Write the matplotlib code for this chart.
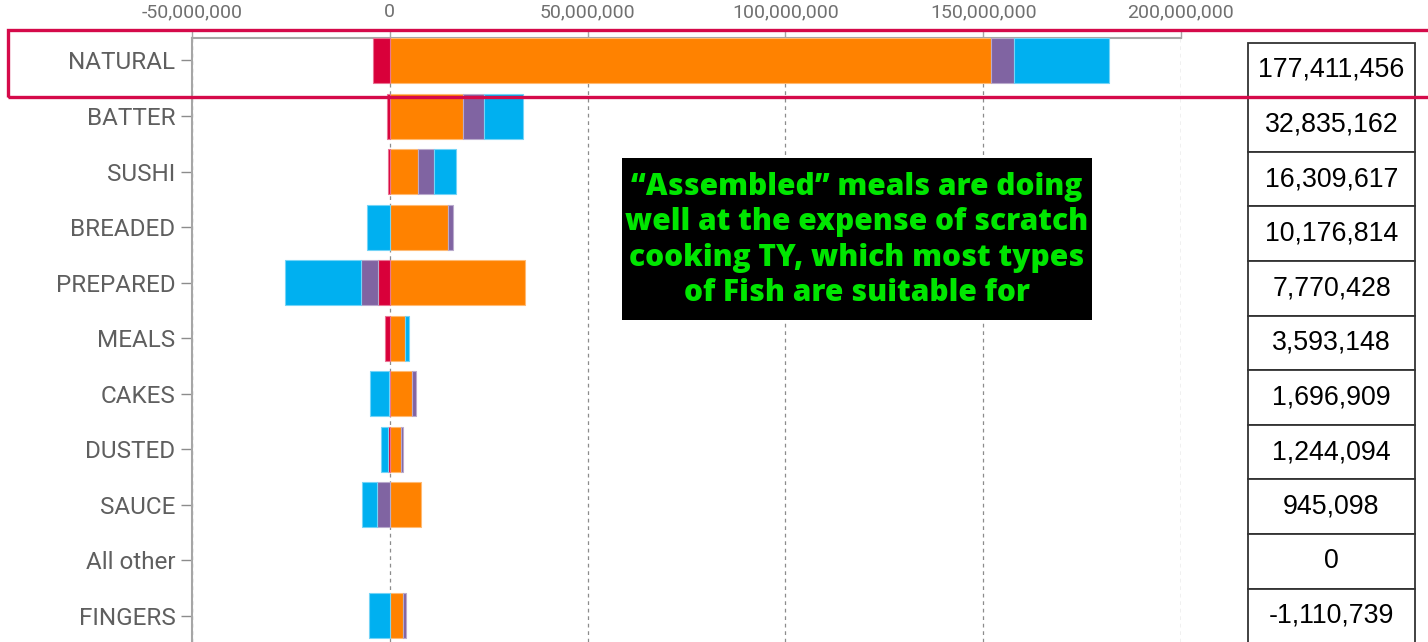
import matplotlib
matplotlib.use("Agg")
import matplotlib.pyplot as plt
from matplotlib.ticker import FuncFormatter, FixedLocator
from matplotlib.patches import Rectangle
import numpy as np

# ---- data -------------------------------------------------------------
categories = ["NATURAL", "BATTER", "SUSHI", "BREADED", "PREPARED", "MEALS",
              "CAKES", "DUSTED", "SAUCE", "All other", "FINGERS"]

# value change contributions per segment (units)
orange_vals = [152.0e6, 18.6e6, 7.2e6, 14.7e6, 34.1e6, 3.9e6, 5.6e6, 2.9e6, 7.9e6, 0.0, 3.4e6]
red_vals    = [-4.2e6, -0.75e6, -0.5e6, 0.0, -3.0e6, -1.2e6, -0.2e6, -0.5e6, 0.0, 0.0, 0.0]
purple_vals = [5.9e6, 5.2e6, 4.0e6, 1.2e6, -4.3e6, 0.0, 1.1e6, 0.5e6, -3.2e6, 0.0, 0.8e6]
blue_vals   = [23.8e6, 9.8e6, 5.6e6, -5.7e6, -19.1e6, 0.9e6, -4.8e6, -1.7e6, -3.8e6, 0.0, -5.3e6]

net_totals = [177411456, 32835162, 16309617, 10176814, 7770428, 3593148,
              1696909, 1244094, 945098, 0, -1110739]

x_ticks = [-50e6, 0, 50e6, 100e6, 150e6, 200e6]

note_text = ("\u201cAssembled\u201d meals are doing\n"
             "well at the expense of scratch\n"
             "cooking TY, which most types\n"
             "of Fish are suitable for")

# ---- styling ----------------------------------------------------------
series = [
    (orange_vals, "#FF8200"),
    (red_vals,    "#D9003A"),
    (purple_vals, "#8064A2"),
    (blue_vals,   "#00B0F0"),
]

W, H = 1428, 642
fig = plt.figure(figsize=(W / 100, H / 100), dpi=100)
fig.patch.set_facecolor("white")

def px_box(x0, y0, x1, y1):
    """figure-fraction rect from pixel corners (top-left origin)."""
    return [x0 / W, 1 - y1 / H, (x1 - x0) / W, (y1 - y0) / H]

ax = fig.add_axes(px_box(192, 38, 1181, 642))

y = np.arange(len(categories))
pos_left = np.zeros(len(categories))
neg_left = np.zeros(len(categories))

def tint(c, f=0.45):
    rgb = np.array(matplotlib.colors.to_rgb(c))
    return tuple(rgb + (1 - rgb) * f)

for vals, color in series:
    v = np.array(vals, dtype=float)
    left = np.where(v >= 0, pos_left, neg_left)
    nz = v != 0
    ax.barh(y[nz], v[nz], left=left[nz], height=0.81, color=color,
            edgecolor=tint(color), linewidth=0.8, zorder=3)
    pos_left += np.where(v > 0, v, 0)
    neg_left += np.where(v < 0, v, 0)

ax.set_xlim(-50e6, 200e6)
ax.set_ylim(10.47, -0.405)

ax.xaxis.set_major_locator(FixedLocator(x_ticks))
ax.xaxis.set_major_formatter(FuncFormatter(lambda v, p: f"{v:,.0f}"))
ax.xaxis.tick_top()
ax.tick_params(axis="x", which="major", length=6, width=1, color="#A6A6A6",
               pad=6, labelsize=14, labelcolor="#707070")
for lbl in ax.get_xticklabels():
    lbl.set_fontfamily("Roboto")

ax.set_yticks(y)
ax.set_yticklabels(categories)
ax.tick_params(axis="y", length=8, width=1, color="#8C8C8C", pad=4,
               labelsize=17.5, labelcolor="#5F5F5F")
for lbl in ax.get_yticklabels():
    lbl.set_fontfamily("Roboto")

ax.grid(axis="x", linestyle=(0, (3, 3)), color="#8C8C8C", linewidth=0.9)
ax.set_axisbelow(True)

for side in ("right", "bottom"):
    ax.spines[side].set_visible(False)
for side in ("top", "left"):
    ax.spines[side].set_color("#A6A6A6")
    ax.spines[side].set_linewidth(1.5)

# ---- annotation box --------------------------------------------------
bx0, by0, bx1, by1 = 622, 158, 1092, 320
fig.patches.append(Rectangle((bx0 / W, 1 - by1 / H), (bx1 - bx0) / W, (by1 - by0) / H,
                             transform=fig.transFigure, facecolor="black",
                             edgecolor="none", zorder=5))
fig.text((bx0 + bx1) / 2 / W, 1 - ((by0 + by1) / 2 + 1) / H, note_text,
         ha="center", va="center", color="#00E600", fontsize=21.5,
         fontweight=800, family="Open Sans", linespacing=1.23, zorder=6)

# ---- totals column --------------------------------------------------
tax = fig.add_axes(px_box(1248, 42.7, 1415, 643.3))
tax.set_xlim(0, 1)
tax.set_ylim(len(net_totals), 0)
tax.axis("off")
for i, val in enumerate(net_totals):
    tax.add_patch(Rectangle((0, i), 1, 1, facecolor="white", edgecolor="#333333",
                            linewidth=1.3, clip_on=False))
    tax.text(0.5, i + 0.5, f"{val:,}", ha="center", va="center",
             fontsize=19.3, family="Liberation Sans", color="black")

# ---- highlight frame around the top row ------------------------------
fig.patches.append(Rectangle((8 / W, 1 - 97 / H), (1440 - 8) / W, (97 - 30) / H,
                             transform=fig.transFigure, facecolor="none",
                             edgecolor="#D50A4A", linewidth=2.4, zorder=10,
                             clip_on=False))

fig.savefig("out.png", dpi=100, facecolor="white")
